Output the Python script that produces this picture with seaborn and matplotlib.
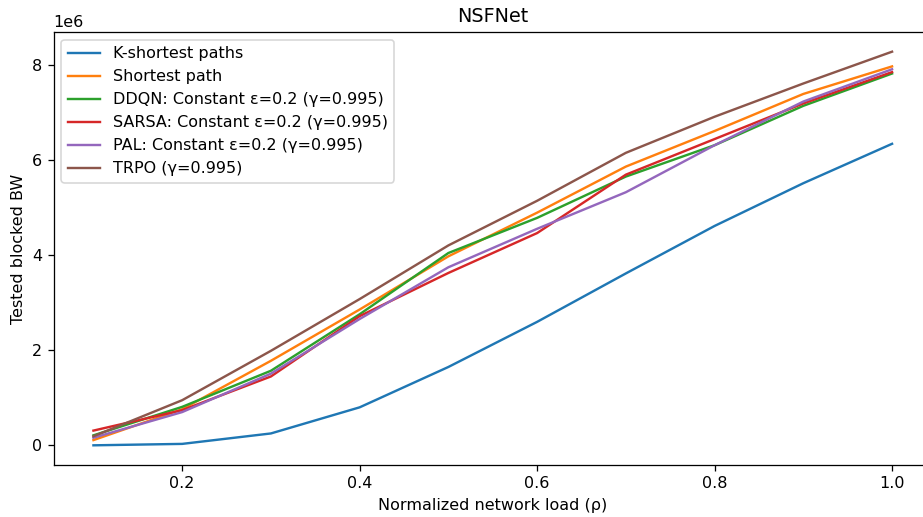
import matplotlib
matplotlib.use("Agg")
import matplotlib.pyplot as plt
import seaborn as sns
import pandas as pd

loads = [0.1, 0.2, 0.3, 0.4, 0.5, 0.6, 0.7, 0.8, 0.9, 1.0]
k_shortest = [0.0, 0.03e6, 0.25e6, 0.80e6, 1.65e6, 2.60e6, 3.62e6, 4.62e6, 5.52e6, 6.35e6]
shortest = [0.11e6, 0.76e6, 1.78e6, 2.86e6, 3.98e6, 4.90e6, 5.87e6, 6.62e6, 7.40e6, 7.98e6]
ddqn = [0.21e6, 0.81e6, 1.57e6, 2.76e6, 4.05e6, 4.79e6, 5.66e6, 6.32e6, 7.15e6, 7.83e6]
sarsa = [0.31e6, 0.74e6, 1.45e6, 2.72e6, 3.63e6, 4.47e6, 5.70e6, 6.45e6, 7.20e6, 7.86e6]
pal = [0.16e6, 0.70e6, 1.51e6, 2.66e6, 3.75e6, 4.56e6, 5.33e6, 6.32e6, 7.24e6, 7.92e6]
trpo = [0.19e6, 0.95e6, 1.99e6, 3.08e6, 4.21e6, 5.15e6, 6.16e6, 6.92e6, 7.62e6, 8.29e6]

labels = ["K-shortest paths", "Shortest path",
          "DDQN: Constant ε=0.2 (γ=0.995)",
          "SARSA: Constant ε=0.2 (γ=0.995)",
          "PAL: Constant ε=0.2 (γ=0.995)",
          "TRPO (γ=0.995)"]
series = [k_shortest, shortest, ddqn, sarsa, pal, trpo]

rows = []
for lab, vals in zip(labels, series):
    for x, v in zip(loads, vals):
        rows.append({"load": x, "bw": v, "method": lab})
df = pd.DataFrame(rows)

DPI = 115
fig = plt.figure(figsize=(923 / DPI, 517 / DPI), dpi=DPI)
ax = fig.add_axes([53.5 / 923, 52 / 517, (932 - 53.5) / 923, 433 / 517])
palette = sns.color_palette("tab10", 6)
sns.lineplot(data=df, x="load", y="bw", hue="method", hue_order=labels,
             palette=palette, ax=ax, linewidth=1.5)
ax.set_title("NSFNet")
ax.set_xlabel("Normalized network load (ρ)")
ax.set_ylabel("Tested blocked BW")
ax.legend(loc="upper left")
fig.savefig("out.png", dpi=DPI)
